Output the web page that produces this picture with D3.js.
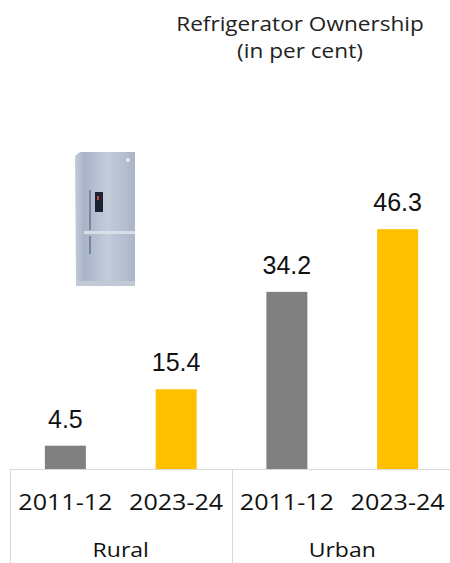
<!DOCTYPE html>
<html>
<head>
<meta charset="utf-8">
<script src="https://cdn.jsdelivr.net/npm/d3@7"></script>
<style>
  body { margin: 0; background: #fff; }
  svg { display: block; }
</style>
</head>
<body>
<div id="container"></div>
<script>
// chart data
const groups = ["Rural", "Urban"];
const periods = ["2011-12", "2023-24"];
const rural = [4.5, 15.4];
const urban = [34.2, 46.3];
const titleLines = ["Refrigerator Ownership", "(in per cent)"];

const WIDTH = 450;
const HEIGHT = 563;
const BASE = 469;
const COLORS = ["#808080", "#FFC000"];

const svg = d3.select("#container")
    .append("svg")
    .attr("width", WIDTH)
    .attr("height", HEIGHT);

// flatten into rows for the bars
const rows = [];
groups.forEach((g, gi) => {
    const vals = gi === 0 ? rural : urban;
    periods.forEach((p, pi) => rows.push({ key: g + "|" + p, group: g, period: p, value: vals[pi], pi: pi }));
});

const xScale = d3.scaleBand()
    .domain(rows.map(d => d.key))
    .range([10, 453])
    .paddingInner(0.63)
    .paddingOuter(0.315);

const yScale = d3.scaleLinear()
    .domain([0, 50])
    .range([BASE, 210]);

const groupScale = d3.scaleBand()
    .domain(groups)
    .range([10, 453]);

// title
svg.append("g").selectAll("text")
    .data(titleLines)
    .enter()
    .append("text")
    .attr("transform", (d, i) => "translate(300," + (31 + i * 27) + ") scale(1.13,1)")
    .attr("text-anchor", "middle")
    .attr("font-family", "'Open Sans', sans-serif")
    .attr("font-size", 20)
    .attr("fill", "#222")
    .text(d => d);

// fridge picture
const defs = svg.append("defs");
const front = defs.append("linearGradient").attr("id", "front").attr("x1", 0).attr("x2", 1).attr("y1", 0).attr("y2", 0);
front.append("stop").attr("offset", "0%").attr("stop-color", "#a7b3c8");
front.append("stop").attr("offset", "45%").attr("stop-color", "#c3ccdb");
front.append("stop").attr("offset", "100%").attr("stop-color", "#aab5c9");
const side = defs.append("linearGradient").attr("id", "side").attr("x1", 0).attr("x2", 1).attr("y1", 0).attr("y2", 0);
side.append("stop").attr("offset", "0%").attr("stop-color", "#c4ccda");
side.append("stop").attr("offset", "100%").attr("stop-color", "#a3aec2");

const fridge = svg.append("g");
fridge.append("path").attr("d", "M75,156 L80,152 L86,152 L86,286 L76,286 Z").attr("fill", "url(#side)");
fridge.append("rect").attr("x", 84).attr("y", 152).attr("width", 51).attr("height", 80).attr("fill", "url(#front)");
fridge.append("rect").attr("x", 84).attr("y", 234).attr("width", 51).attr("height", 48).attr("fill", "url(#front)");
fridge.append("rect").attr("x", 84).attr("y", 231).attr("width", 51).attr("height", 3).attr("fill", "#d8dee8");
fridge.append("rect").attr("x", 76).attr("y", 281).attr("width", 59).attr("height", 5).attr("fill", "#c2c9d6");
fridge.append("rect").attr("x", 89).attr("y", 190).attr("width", 2).attr("height", 40).attr("fill", "#7a869c");
fridge.append("rect").attr("x", 89).attr("y", 236).attr("width", 2).attr("height", 18).attr("fill", "#7a869c");
fridge.append("rect").attr("x", 95).attr("y", 192).attr("width", 8).attr("height", 20).attr("fill", "#1c2230");
fridge.append("rect").attr("x", 97).attr("y", 196).attr("width", 2).attr("height", 4).attr("fill", "#c84848");
fridge.append("circle").attr("cx", 128).attr("cy", 160).attr("r", 2).attr("fill", "#e8ecf2");

// category frame
const frame = svg.append("g").attr("stroke", "#d9d9d9").attr("stroke-width", 1);
frame.append("line").attr("x1", 10).attr("x2", 453).attr("y1", BASE + 0.5).attr("y2", BASE + 0.5);
frame.selectAll(".sep")
    .data(groups.map(g => groupScale(g)).concat([453]))
    .enter()
    .append("line")
    .attr("x1", d => Math.round(d) + 0.5)
    .attr("x2", d => Math.round(d) + 0.5)
    .attr("y1", BASE)
    .attr("y2", HEIGHT);

// bars
svg.selectAll("rect.bar")
    .data(rows)
    .enter()
    .append("rect")
    .attr("class", "bar")
    .attr("x", d => xScale(d.key))
    .attr("y", d => yScale(d.value))
    .attr("width", xScale.bandwidth())
    .attr("height", d => BASE - yScale(d.value))
    .attr("fill", d => COLORS[d.pi]);

// value labels
svg.selectAll("text.val")
    .data(rows)
    .enter()
    .append("text")
    .attr("class", "val")
    .attr("x", d => xScale(d.key) + xScale.bandwidth() / 2)
    .attr("y", d => yScale(d.value) - 18)
    .attr("text-anchor", "middle")
    .attr("font-family", "'Liberation Sans', Arial, sans-serif")
    .attr("font-size", 25)
    .attr("fill", "#111")
    .text(d => d.value.toFixed(1));

// period labels
svg.selectAll("text.per")
    .data(rows)
    .enter()
    .append("text")
    .attr("class", "per")
    .attr("transform", d => "translate(" + (xScale(d.key) + xScale.bandwidth() / 2) + ",510) scale(1.14,1)")
    .attr("text-anchor", "middle")
    .attr("font-family", "'Open Sans', sans-serif")
    .attr("font-size", 22)
    .attr("fill", "#111")
    .text(d => d.period);

// group labels
svg.selectAll("text.grp")
    .data(groups)
    .enter()
    .append("text")
    .attr("class", "grp")
    .attr("transform", d => "translate(" + (groupScale(d) + groupScale.bandwidth() / 2) + ",557) scale(1.15,1)")
    .attr("text-anchor", "middle")
    .attr("font-family", "'Open Sans', sans-serif")
    .attr("font-size", 20)
    .attr("fill", "#111")
    .text(d => d);
</script>
</body>
</html>
